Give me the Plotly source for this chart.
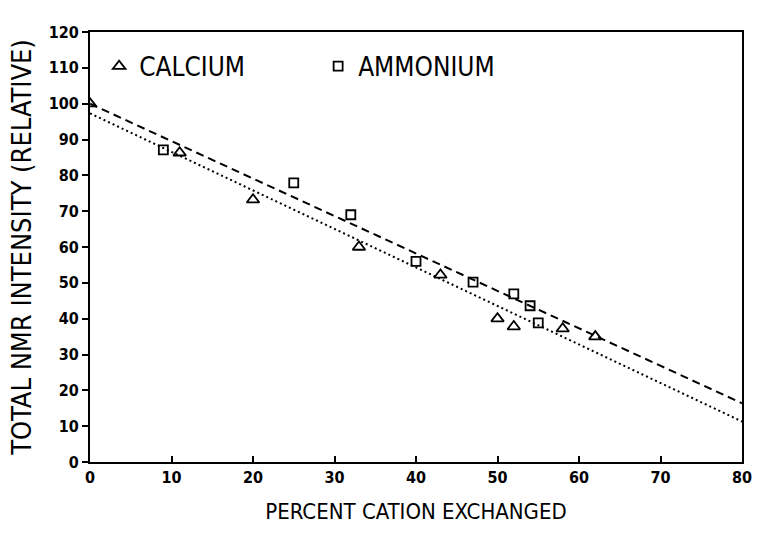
import numpy as np
import plotly.graph_objects as go

# Measured NMR intensity vs. percent cation exchanged
calcium_x = [0, 11, 20, 33, 43, 50, 52, 58, 62]
calcium_y = [100, 86.3, 73.2, 60, 52.2, 40, 37.8, 37.2, 35]
ammonium_x = [9, 25, 32, 40, 47, 52, 54, 55]
ammonium_y = [87.1, 77.9, 69, 56, 50.2, 46.9, 43.6, 38.8]

# Fit lines (intercept, slope)
fit_ammonium = (100.0, -1.045)
fit_calcium = (97.3, -1.075)
fit_x = np.array([0, 80])

x_ticks = [0, 10, 20, 30, 40, 50, 60, 70, 80]
y_ticks = [0, 10, 20, 30, 40, 50, 60, 70, 80, 90, 100, 110, 120]

FONT = "DejaVu Sans Condensed, Liberation Sans Narrow, DejaVu Sans, sans-serif"

fig = go.Figure()

fig.add_trace(go.Scatter(
    x=fit_x, y=fit_ammonium[0] + fit_ammonium[1] * fit_x, mode="lines",
    line=dict(color="black", width=2, dash="8px,5px"), showlegend=False,
    hoverinfo="skip"))
fig.add_trace(go.Scatter(
    x=fit_x, y=fit_calcium[0] + fit_calcium[1] * fit_x, mode="lines",
    line=dict(color="black", width=2, dash="2px,3px"), showlegend=False,
    hoverinfo="skip"))

fig.add_trace(go.Scatter(
    x=calcium_x, y=calcium_y, mode="markers", name="CALCIUM",
    marker=dict(symbol="triangle-up-open", size=11, color="black",
                line=dict(width=1.8, color="black"))))
fig.add_trace(go.Scatter(
    x=ammonium_x, y=ammonium_y, mode="markers", name="AMMONIUM",
    marker=dict(symbol="square-open", size=9, color="black",
                line=dict(width=1.8, color="black"))))

axis_common = dict(
    showline=True, linecolor="black", linewidth=2, mirror=True,
    showgrid=False, zeroline=False, tickcolor="black", ticklen=6,
    tickwidth=1.5,
    tickfont=dict(family=FONT, size=16, color="black", weight="bold"),
)

fig.update_xaxes(
    range=[0, 80], tickvals=x_ticks, ticks="inside",
    title=dict(text="PERCENT CATION EXCHANGED", standoff=17,
               font=dict(family=FONT, size=22, color="black")),
    **axis_common)
fig.update_yaxes(
    range=[0, 120], tickvals=y_ticks, ticks="outside",
    title=dict(text="TOTAL NMR INTENSITY (RELATIVE)", standoff=9,
               font=dict(family=FONT, size=27, color="black")),
    **axis_common)

fig.update_layout(
    width=762, height=537,
    margin=dict(l=90, r=10, t=32, b=75),
    paper_bgcolor="white", plot_bgcolor="white",
    legend=dict(orientation="h", x=0.014, y=0.975, xanchor="left",
                yanchor="top", bgcolor="rgba(0,0,0,0)",
                font=dict(family=FONT, size=26, color="black"),
                entrywidth=174, itemwidth=30),
)

fig.write_html("out.html")
